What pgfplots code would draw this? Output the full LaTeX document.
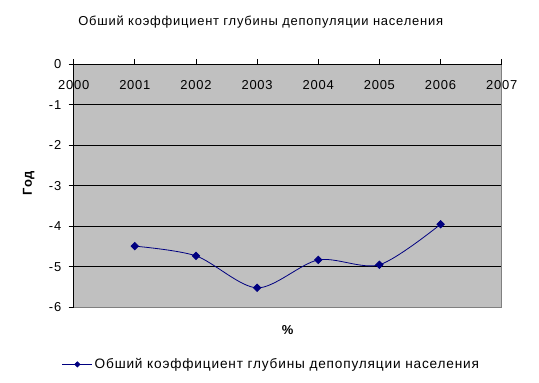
\documentclass[border=0pt]{standalone}
\usepackage{pgfplots}
\pgfplotsset{compat=1.18}
\usepackage{fontspec}
\setmainfont[LetterSpace=6]{Liberation Sans}
\begin{document}
\begin{tikzpicture}[x=1bp,y=1bp]
\definecolor{plotgray}{RGB}{192,192,192}
\definecolor{bordergray}{RGB}{128,128,128}
\definecolor{navy}{RGB}{0,0,128}
\begin{axis}[
  name=ax,
  scale only axis,
  width=428bp, height=243bp,
  xmin=2000, xmax=2007,
  ymin=-6, ymax=0,
  xtick={2000,...,2007},
  ytick={-6,...,0},
  xticklabel style={/pgf/number format/1000 sep=},
  /pgf/number format/assume math mode=true,
  axis background/.style={fill=plotgray},
  axis line style={draw=none},
  every tick/.style={black, line width=0.8bp},
  tick align=outside,
  major tick length=5bp,
  xtick pos=upper,
  ytick pos=lower,
  xticklabel pos=upper,
  xticklabel style={anchor=north, yshift=-17.5bp, font=\fontsize{13}{15}\selectfont},
  yticklabel style={font=\fontsize{13}{15}\selectfont, xshift=-4bp},
  ymajorgrids,
  grid style={black, line width=0.8bp},
  clip=false,
  legend style={draw=none, fill=none, at={(0.462,-0.235)}, anchor=center, font=\fontsize{13.7}{15}\selectfont,
    legend cell align=left},
  legend image code/.code={\draw[#1,mark size=1.8bp,mark repeat=2,mark phase=2] plot coordinates {(0bp,0bp) (15bp,0bp) (30bp,0bp)};},
]
\draw[bordergray, line width=1.2bp] (rel axis cs:0,0) -- (rel axis cs:1,0) -- (rel axis cs:1,1);
\draw[black, line width=0.8bp] (rel axis cs:0,0) -- (rel axis cs:0,1) -- (rel axis cs:1,1);
\addplot[navy, line width=0.8bp, smooth, tension=0.5, mark=square*, mark size=2.6bp, mark options={fill=navy, draw=navy, rotate=45}]
  coordinates {(2001,-4.49) (2002,-4.73) (2003,-5.52) (2004,-4.83) (2005,-4.95) (2006,-3.95)};
\addlegendentry{Обший коэффициент глубины депопуляции населения}
\end{axis}
\node[font=\fontsize{13}{15}\selectfont] at ([shift={(187bp,285bp)}]ax.south west) {Обший коэффициент глубины депопуляции населения};
\node[font=\bfseries\fontsize{13}{15}\selectfont, rotate=90] at ([shift={(-45bp,124bp)}]ax.south west) {Год};
\node[font=\bfseries\fontsize{13}{15}\selectfont] at ([shift={(214bp,-23bp)}]ax.south west) {\%};
\path ([shift={(-73.7bp,-75.7bp)}]ax.south west) rectangle ([shift={(465.3bp,307.3bp)}]ax.south west);
\end{tikzpicture}
\end{document}
